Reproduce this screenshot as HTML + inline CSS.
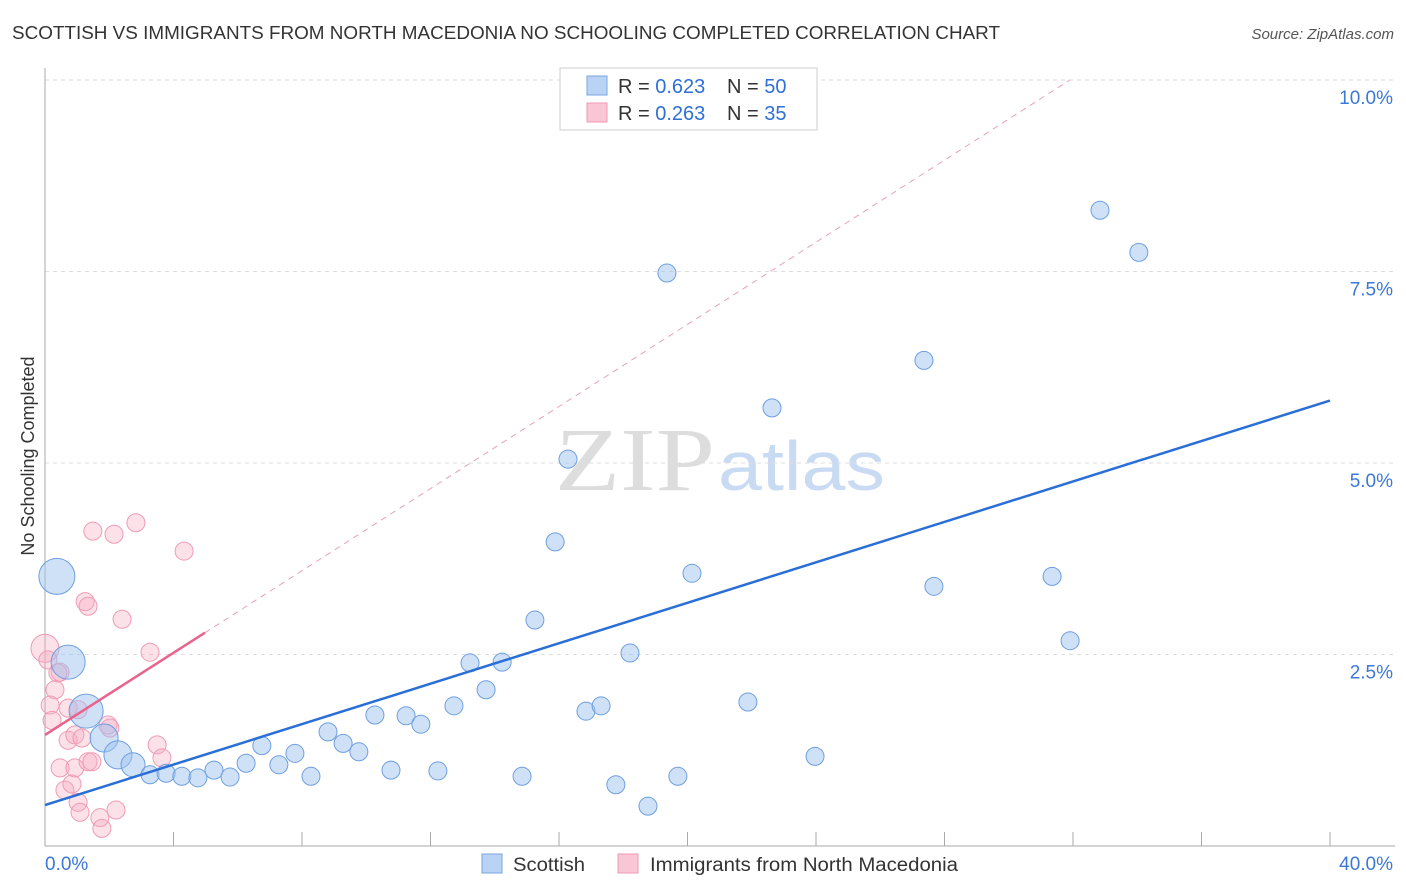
<!DOCTYPE html>
<html><head><meta charset="utf-8"><style>
body{margin:0;background:#fff;font-family:"Liberation Sans",sans-serif;}
svg{display:block}
</style></head><body>
<svg id="c" width="1406" height="892">
<text x="12" y="39" font-size="18" fill="#333" textLength="988" lengthAdjust="spacingAndGlyphs">SCOTTISH VS IMMIGRANTS FROM NORTH MACEDONIA NO SCHOOLING COMPLETED CORRELATION CHART</text>
<text x="1394" y="39" font-size="15" fill="#555" font-style="italic" text-anchor="end">Source: ZipAtlas.com</text>
<text x="34" y="456" font-size="18" fill="#333" text-anchor="middle" transform="rotate(-90 34 456)">No Schooling Completed</text>
<g><text x="555" y="490" font-size="90" font-family="Liberation Serif,serif" fill="#ddd" textLength="160" lengthAdjust="spacingAndGlyphs">ZIP</text><text x="718" y="490" font-size="70" fill="#c9daf3" textLength="167" lengthAdjust="spacingAndGlyphs">atlas</text></g>
<g id="grid"></g><g id="marks"></g>
<g>
<rect x="560" y="68" width="257" height="62" fill="#fff" stroke="#ccc"/>
<rect x="587" y="76" width="20" height="19" fill="#b9d3f5" stroke="#7aa5de"/>
<rect x="587" y="103" width="20" height="19" fill="#f9c6d5" stroke="#ee9ab3"/>
<text x="618" y="93" font-size="20" fill="#333">R = <tspan fill="#2f6fd6">0.623</tspan></text>
<text x="727" y="93" font-size="20" fill="#333">N = <tspan fill="#2f6fd6">50</tspan></text>
<text x="618" y="120" font-size="20" fill="#333">R = <tspan fill="#2f6fd6">0.263</tspan></text>
<text x="727" y="120" font-size="20" fill="#333">N = <tspan fill="#2f6fd6">35</tspan></text>
</g>
<g>
<rect x="482" y="854" width="20" height="19" fill="#b9d3f5" stroke="#7aa5de"/>
<text x="513" y="871" font-size="19" fill="#333" textLength="72" lengthAdjust="spacingAndGlyphs">Scottish</text>
<rect x="618" y="854" width="20" height="19" fill="#f9c6d5" stroke="#ee9ab3"/>
<text x="650" y="871" font-size="19" fill="#333" textLength="308" lengthAdjust="spacingAndGlyphs">Immigrants from North Macedonia</text>
</g>
</svg>
<script>
const xTicks=["0.0%","40.0%"];
const yTicks=[2.5,5,7.5,10];
const yTickLabels=["2.5%","5.0%","7.5%","10.0%"];
const blueX=[0.37,0.72,1.28,1.84,2.27,2.74,3.27,3.77,4.26,4.76,5.26,5.76,6.26,6.75,7.28,7.78,8.28,8.81,9.28,9.77,10.27,10.77,11.24,11.70,12.23,12.73,13.23,13.73,14.23,14.85,15.25,15.88,16.28,16.84,17.31,17.77,18.21,18.77,19.36,19.70,20.14,21.88,22.63,23.97,27.36,27.67,31.35,31.91,32.84,34.05];
const blueY=[3.52,2.40,1.76,1.41,1.19,1.06,0.93,0.95,0.91,0.89,0.99,0.90,1.08,1.31,1.06,1.21,0.91,1.49,1.34,1.23,1.71,0.99,1.70,1.59,0.98,1.83,2.39,2.04,2.40,0.91,2.95,3.97,5.05,1.76,1.83,0.80,2.52,0.52,7.48,0.91,3.56,1.88,5.72,1.17,6.34,3.39,3.52,2.68,8.30,7.75];
const blueSize=[18,17,17,14,14,12];
const pinkX=[0,0.31,0.47,0.16,0.22,0.72,0.72,0.93,1.03,1.15,0.47,0.62,0.84,0.93,1.03,1.09,1.71,1.77,2.21,1.25,1.34,1.49,2.15,2.83,4.33,2.40,3.27,1.96,2.02,1.34,1.46,3.49,3.64,0.09,0.40];
const pinkY=[2.58,2.04,2.27,1.84,1.64,1.80,1.38,1.45,1.78,1.41,1.02,0.73,0.81,1.02,0.57,0.44,0.37,0.23,0.47,3.19,3.13,4.11,4.07,4.22,3.85,2.96,2.53,1.58,1.54,1.10,1.10,1.32,1.15,2.43,2.26];
const pinkSize=[14];
const blueFit=[0.535,0.132];
const pinkFit=[1.45,0.268];
const NS="http://www.w3.org/2000/svg";
const X=v=>45+v*(1330-45)/40;
const Y=v=>846-v*76.6;
function mk(t,a,p){const e=document.createElementNS(NS,t);for(const k in a)e.setAttribute(k,a[k]);p.appendChild(e);return e;}
const g=document.getElementById('grid'),m=document.getElementById('marks');
yTicks.forEach((t,i)=>{
 const l=mk('line',{x1:45,x2:1395,y1:Y(t),y2:Y(t),stroke:'#ddd','stroke-dasharray':'4,4'},g);
 
 
 const tx=mk('text',{x:1393,y:Y(t)+24,'font-size':19,fill:'#3b78d8','text-anchor':'end'},g);
 tx.textContent=yTickLabels[i];
 
 
});
mk('line',{x1:45,x2:45,y1:68,y2:846,stroke:'#aaa'},g);
mk('line',{x1:45,x2:1395,y1:846,y2:846,stroke:'#aaa'},g);
for(let i=0;i<=10;i++){const l=mk('line',{x1:X(i*4),x2:X(i*4),y1:832,y2:846,stroke:'#aaa'},g);
 
 }
const t0=mk('text',{x:45,y:870,'font-size':19,fill:'#3b78d8'},g);t0.textContent=xTicks[0];


const t1=mk('text',{x:1393,y:870,'font-size':19,fill:'#3b78d8','text-anchor':'end'},g);t1.textContent=xTicks[1];


pinkX.forEach((x,i)=>{const c=mk('circle',{cx:X(x),cy:Y(pinkY[i]),r:pinkSize[i]||9,fill:'rgba(246,168,192,0.35)',stroke:'#ef9bb5','stroke-width':1},m);
 
 });
blueX.forEach((x,i)=>{const c=mk('circle',{cx:X(x),cy:Y(blueY[i]),r:blueSize[i]||9,fill:'rgba(160,195,240,0.5)',stroke:'#6e9fdf','stroke-width':1},m);
 
 });
const xEnd=(10-pinkFit[0])/pinkFit[1];
const pd=mk('line',{x1:X(4.98),y1:Y(pinkFit[0]+pinkFit[1]*4.98),x2:X(xEnd),y2:Y(10),stroke:'#eaa0b6','stroke-dasharray':'6,5'},m);


const pl=mk('line',{x1:X(0),y1:Y(pinkFit[0]),x2:X(4.98),y2:Y(pinkFit[0]+pinkFit[1]*4.98),stroke:'#e8648c','stroke-width':2.5},m);


const bl=mk('line',{x1:X(0),y1:Y(blueFit[0]),x2:X(40),y2:Y(blueFit[0]+blueFit[1]*40),stroke:'#2a6fd6','stroke-width':2.5},m);


</script>
</body></html>
